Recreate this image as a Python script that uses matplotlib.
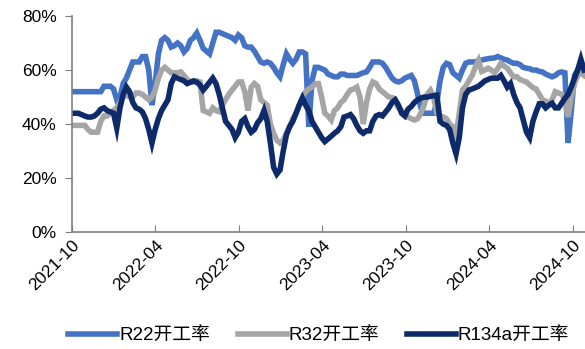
import numpy as np
import pandas as pd
import matplotlib
matplotlib.use("Agg")
import matplotlib.pyplot as plt
import matplotlib.dates as mdates
from matplotlib.ticker import FuncFormatter

plt.rcParams['font.family'] = ['Liberation Sans', 'Noto Sans CJK SC', 'DejaVu Sans']

# 周度开工率（%），2021-10-01 起每周一个点
dates = pd.date_range("2021-10-01", periods=161, freq="7D")

r22 = [52, 52, 52, 52, 52, 52, 52, 52, 52, 52,
       54, 54, 54, 53, 49, 50, 55, 57, 60, 63,
       63, 63, 65, 65, 60, 47, 55, 66, 71, 72,
       71, 68.5, 69, 70, 69, 66.7, 68, 71, 72, 73.7,
       71, 68, 67, 66, 70, 74, 74, 73.5, 73, 72.5,
       72, 71, 73, 72, 69, 68.5, 68.5, 67, 65, 63,
       62.5, 63, 62.5, 61, 59, 57.5, 62, 66, 64, 62.5,
       64, 66.7, 66.7, 66, 39, 56, 61, 61, 60.5, 60,
       58.5, 58, 57.5, 57.5, 58.5, 58.5, 58, 58, 58, 58,
       58.5, 59, 59.3, 61, 63, 63, 63, 62.5, 61, 59,
       57, 56, 55.6, 56, 57, 57.5, 58, 56, 51, 46,
       44, 44, 44, 44, 48, 56, 61, 62.5, 62, 59,
       58, 57, 60, 62.5, 63, 63, 63, 63.5, 63.7, 64,
       64.2, 64.4, 64.5, 65, 64.5, 64, 63.7, 63, 62.5, 62.5,
       62, 61, 60.7, 60.5, 60, 60, 59.5, 59.3, 58.5, 58,
       57.5, 58, 59, 59.3, 59, 33, 45, 58, 60, 61,
       59]

r32 = [39.5, 39.5, 39.5, 39.5, 39.5, 38, 37, 37, 37, 41,
       43, 43, 44, 45, 46, 48, 50, 51, 50, 50,
       51.5, 51.5, 51, 50, 49, 50, 52.6, 57, 60, 61,
       60, 59, 59, 59, 59.3, 58, 56.5, 55.6, 55.6, 56,
       55.6, 45, 44.5, 44, 46, 45, 44.6, 47, 49, 51,
       52.6, 54, 55.6, 55.6, 52, 45, 53.7, 55, 54, 49,
       48, 47, 40, 36.6, 34, 33, 34, 36.6, 39, 42,
       44, 47, 50, 52, 53, 53.7, 55, 55, 50, 44,
       43, 41.5, 45, 46, 48, 49, 51, 52.6, 53, 53.7,
       50, 40, 48, 53, 55.6, 55, 53, 52, 51, 50,
       49.8, 48, 46, 45, 44, 42.6, 42, 41.5, 42, 44,
       47, 51, 52.5, 50, 44, 43, 42.6, 42, 40, 39,
       36, 44, 52.6, 54, 56, 58, 61, 63.5, 59.5, 60,
       60.7, 60, 59, 60.5, 62.5, 61.5, 60.7, 59, 57.5, 57.5,
       56.5, 56, 55.6, 54.5, 53.5, 53, 51, 49, 48.5, 47.7,
       49, 52, 51.5, 51, 49, 42.6, 50, 55, 58, 59,
       58]

r134a = [44, 44, 44, 43.5, 43, 42.6, 42.6, 43, 44, 45.5,
         46, 45, 44.5, 44, 38.5, 46, 51, 53.7, 52, 48,
         46, 45.5, 44.5, 42, 38, 33, 38, 42, 45, 47,
         49, 55, 57.5, 57, 56.5, 56, 55, 55.5, 56, 55.5,
         54.5, 52.6, 54, 55.5, 57, 55, 51, 46, 41, 39.5,
         38, 35, 37, 41, 42, 39, 37, 38, 40.5, 42,
         45, 41, 33, 24, 21.5, 23, 30, 36, 39, 41,
         44, 47, 49.6, 47, 45, 41, 39, 37, 35, 33.5,
         34.5, 35.5, 36.6, 37.5, 39, 42.6, 43, 43.5, 42, 39.5,
         37.5, 36.6, 37.5, 37.5, 41, 43, 43.5, 43, 44.5, 46,
         48, 49, 47, 44, 43, 45.5, 46.5, 48, 49, 49.6,
         50, 50, 50.3, 50.5, 50.7, 41, 40, 39.5, 38, 33,
         29, 35, 46, 51, 52.6, 53, 53.5, 54, 55, 56,
         56.5, 57, 57, 57, 58, 56, 53.7, 55, 51, 48,
         46, 41.5, 37, 35, 41, 44.5, 47.5, 47.5, 46, 47,
         47.7, 46, 46, 47.7, 49.5, 51, 53.7, 57, 60, 64,
         60]

series = [("R22开工率", r22, "#4472C4"),
          ("R32开工率", r32, "#A5A5A5"),
          ("R134a开工率", r134a, "#0D2B6B")]

tick_dates = pd.date_range("2021-10-01", "2024-10-01", freq="6MS")

fig = plt.figure(figsize=(5.85, 3.49), dpi=100)
ax = fig.add_axes([0.123, 0.335, 0.877, 0.619])

for name, vals, color in series:
    ax.plot(dates, vals, color=color, lw=4, label=name,
            solid_joinstyle="miter")

ax.set_ylim(0, 80)
ax.set_yticks([0, 20, 40, 60, 80])
ax.yaxis.set_major_formatter(FuncFormatter(lambda v, p: f"{v:.0f}%"))
ax.set_xlim(pd.Timestamp("2021-10-01"), pd.Timestamp("2021-10-01") + pd.Timedelta(days=1122))
ax.set_xticks(tick_dates)
ax.xaxis.set_major_formatter(mdates.DateFormatter("%Y-%m"))

for side in ["top", "right"]:
    ax.spines[side].set_visible(False)
for side in ["left", "bottom"]:
    ax.spines[side].set_color("#7F7F7F")
    ax.spines[side].set_linewidth(1.2)

ax.tick_params(axis="y", direction="out", length=5, color="#7F7F7F",
               labelsize=12.5, pad=6)
ax.tick_params(axis="x", direction="in", length=5, color="#7F7F7F",
               labelsize=12.5, pad=4)
plt.setp(ax.get_xticklabels(), rotation=45, ha="right", rotation_mode="anchor")

fig.legend(loc="lower center", bbox_to_anchor=(0.545, -0.035), ncol=3,
           frameon=False, fontsize=13.5, handlelength=2.6, handletextpad=0.1,
           columnspacing=1.5)

fig.savefig("out.png", dpi=100)
